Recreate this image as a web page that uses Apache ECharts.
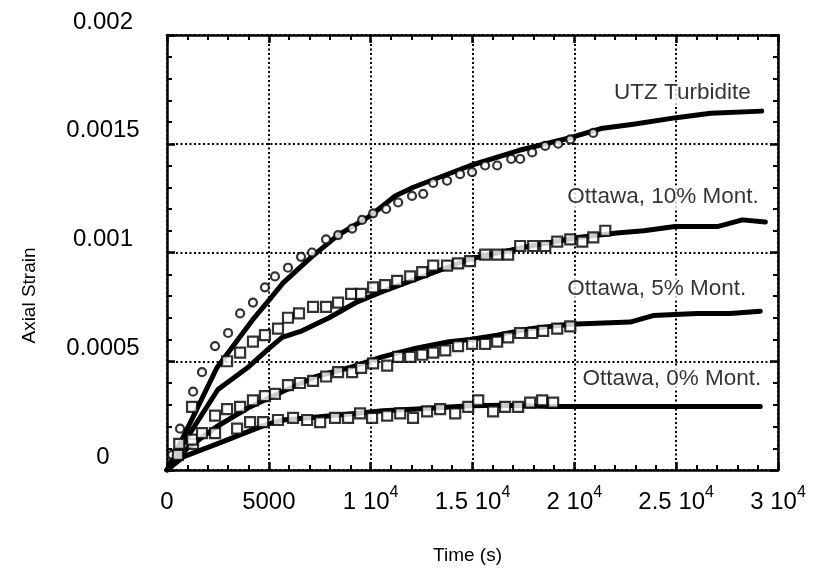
<!DOCTYPE html>
<html>
<head>
<meta charset="utf-8">
<script src="https://cdn.jsdelivr.net/npm/echarts@6.0.0/dist/echarts.min.js"></script>
<style>
  html, body { margin: 0; padding: 0; background: #ffffff; }
  #chart { width: 816px; height: 571px; }
</style>
</head>
<body>
<div id="chart"></div>
<script>
// Creep tests: axial strain against time, model curves (lines) and measurements (markers)

const xTickLabels = ['0', '5000', '1 10{sup|4}', '1.5 10{sup|4}', '2 10{sup|4}', '2.5 10{sup|4}', '3 10{sup|4}'];
const yTickLabels = ['0', '0.0005', '0.001', '0.0015', '0.002'];
const seriesNames = ['UTZ Turbidite', 'Ottawa, 10% Mont.', 'Ottawa, 5% Mont.', 'Ottawa, 0% Mont.'];

// [time (s), axial strain]
const utzLine = [
  [0, 0], [1000, 0.00019], [2450, 0.00047], [4200, 0.00069], [5000, 0.00078], [5700, 0.00086],
  [7100, 0.00098], [8400, 0.00108], [10000, 0.00117], [11200, 0.00126], [12100, 0.00130],
  [14900, 0.00140], [17300, 0.00147], [19900, 0.00153], [21300, 0.00157], [22900, 0.00159],
  [25000, 0.00162], [26700, 0.00164], [29200, 0.00165]
];
const utzPoints = [
  [250, 0.00007], [640, 0.00019], [1280, 0.00036], [1720, 0.00045], [2360, 0.00057], [3000, 0.00063],
  [3590, 0.00072], [4220, 0.00077], [4810, 0.00084], [5300, 0.00089], [5940, 0.00093], [6580, 0.00098],
  [7120, 0.00100], [7810, 0.00106], [8400, 0.00108], [9090, 0.00111], [9580, 0.00115], [10120, 0.00118],
  [10760, 0.00120], [11350, 0.00123], [12030, 0.00126], [12580, 0.00127], [13070, 0.00132], [13750, 0.00133],
  [14390, 0.00136], [14980, 0.00137], [15620, 0.00140], [16210, 0.00140], [16900, 0.00143], [17340, 0.00143],
  [17930, 0.00146], [18570, 0.00149], [19210, 0.00150], [19800, 0.00152], [20930, 0.00155]
];

const m10Line = [
  [0, 0], [1000, 0.00015], [2500, 0.00037], [3950, 0.00047], [4900, 0.00055], [5650, 0.00061],
  [6630, 0.00064], [7960, 0.00070], [9280, 0.00077], [10560, 0.00082], [12280, 0.00088],
  [14880, 0.00097], [17830, 0.00103], [20260, 0.00107], [22080, 0.00109], [23410, 0.00110],
  [24950, 0.00112], [27070, 0.00112], [28250, 0.00115], [29380, 0.00114]
];
const m10Points = [
  [600, 0.00012], [1230, 0.00029], [2950, 0.00050], [3590, 0.00054], [4220, 0.00059], [4810, 0.00062],
  [5450, 0.00065], [5940, 0.00070], [6480, 0.00072], [7170, 0.00075], [7810, 0.00075], [8400, 0.00077],
  [9040, 0.00081], [9530, 0.00081], [10120, 0.00084], [10710, 0.00085], [11300, 0.00087], [11940, 0.00089],
  [12530, 0.00091], [13070, 0.00094], [13750, 0.00094], [14290, 0.00095], [14880, 0.00096], [15620, 0.00099],
  [16210, 0.00099], [16750, 0.00099], [17340, 0.00103], [17980, 0.00103], [18570, 0.00103], [19160, 0.00105],
  [19800, 0.00106], [20390, 0.00105], [20930, 0.00107], [21520, 0.00110]
];

const m5Line = [
  [0, 0], [1000, 0.00010], [2450, 0.00020], [4070, 0.00029], [5650, 0.00036], [7320, 0.00043],
  [8940, 0.00047], [10560, 0.00052], [12230, 0.00056], [13850, 0.00059], [14880, 0.00060],
  [16210, 0.00062], [17830, 0.00065], [19800, 0.00067], [22740, 0.00068], [23870, 0.00071],
  [26030, 0.00072], [27650, 0.00072], [29130, 0.00073]
];
const m5Points = [
  [540, 0.00007], [1280, 0.00012], [2360, 0.00025], [2950, 0.00028], [3590, 0.00029], [4220, 0.00032],
  [4810, 0.00034], [5300, 0.00035], [5940, 0.00039], [6530, 0.00040], [7170, 0.00041], [7810, 0.00043],
  [8400, 0.00045], [9090, 0.00045], [9530, 0.00047], [10120, 0.00049], [10810, 0.00048], [11350, 0.00052],
  [11940, 0.00052], [12530, 0.00053], [13070, 0.00054], [13660, 0.00055], [14290, 0.00057], [14980, 0.00058],
  [15620, 0.00058], [16210, 0.00059], [16750, 0.00061], [17340, 0.00063], [17930, 0.00063], [18470, 0.00064],
  [19160, 0.00065], [19800, 0.00066]
];

const m0Line = [
  [0, 0], [790, 0.00006], [2460, 0.00012], [4080, 0.00018], [4910, 0.00021], [5700, 0.00023],
  [7370, 0.000244], [8990, 0.000257], [10610, 0.000272], [12280, 0.00028], [14880, 0.000295],
  [16500, 0.000298], [18900, 0.000292], [29130, 0.000292]
];
const m0Points = [
  [1230, 0.00014], [1720, 0.00017], [2360, 0.00017], [3440, 0.00019], [4080, 0.00022], [4720, 0.00022],
  [5450, 0.00023], [6190, 0.00024], [6880, 0.00023], [7520, 0.00022], [8250, 0.00024], [8890, 0.00024],
  [9480, 0.00026], [10070, 0.00024], [10810, 0.00025], [11450, 0.00026], [12080, 0.00024], [12770, 0.00027],
  [13410, 0.00028], [14150, 0.00026], [14790, 0.00029], [15280, 0.00032], [16010, 0.00027], [16600, 0.00029],
  [17240, 0.00029], [17830, 0.00031], [18420, 0.00032], [18960, 0.00031]
];

const FONT = '"Liberation Sans", Arial, Helvetica, sans-serif';
const INK = '#000000';

function lineSeries(name, data) {
  return {
    name: name, type: 'line', data: data, showSymbol: false, symbol: 'none',
    lineStyle: { color: INK, width: 5, cap: 'round', join: 'round' },
    z: 3, silent: true, animation: false
  };
}
function pointSeries(name, data, symbol) {
  return {
    name: name, type: 'scatter', data: data, symbol: symbol,
    symbolSize: symbol === 'circle' ? 8 : 10,
    itemStyle: { color: '#ffffff', borderColor: INK, borderWidth: 2.2 },
    z: 4, silent: true, animation: false
  };
}

const frameLine = { show: true, onZero: false, lineStyle: { color: INK, width: 2.5 } };
const majorTick = { show: true, inside: true, length: 8, lineStyle: { color: INK, width: 2.5 } };
const minorTick = { show: true, splitNumber: 5, length: 5, lineStyle: { color: INK, width: 2 } };
const dottedGrid = { show: true, lineStyle: { color: INK, width: 2, type: [2, 2.5] } };

const option = {
  backgroundColor: '#ffffff',
  animation: false,
  grid: { left: 167, right: 38, top: 35, bottom: 101, containLabel: false },
  xAxis: [
    {
      type: 'value', min: 0, max: 30000, interval: 5000, position: 'bottom',
      name: 'Time (s)', nameLocation: 'middle', nameGap: 76,
      nameTextStyle: { fontFamily: FONT, fontSize: 19, color: INK, padding: [0, 10, 0, 0] },
      axisLine: frameLine, axisTick: majorTick, minorTick: minorTick,
      splitLine: dottedGrid, minorSplitLine: { show: false },
      axisLabel: {
        margin: 15, fontFamily: FONT, fontSize: 24, color: INK, lineHeight: 34,
        formatter: v => xTickLabels[Math.round(v / 5000)],
        rich: { sup: { fontFamily: FONT, fontSize: 16, color: INK, verticalAlign: 'top', lineHeight: 34 } }
      }
    },
    {
      type: 'value', min: 0, max: 30000, interval: 5000, position: 'top',
      axisLine: frameLine, axisTick: majorTick, minorTick: minorTick,
      splitLine: { show: false }, axisLabel: { show: false }
    }
  ],
  yAxis: [
    {
      type: 'value', min: 0, max: 0.002, interval: 0.0005, position: 'left',
      name: 'Axial Strain', nameLocation: 'middle', nameGap: 128,
      nameTextStyle: { fontFamily: FONT, fontSize: 19, color: INK, padding: [0, 86, 0, 0] },
      axisLine: frameLine, axisTick: majorTick, minorTick: minorTick,
      splitLine: dottedGrid, minorSplitLine: { show: false },
      axisLabel: {
        margin: 64, align: 'center', verticalAlign: 'bottom', lineHeight: 26,
        fontFamily: FONT, fontSize: 24, color: INK,
        formatter: v => yTickLabels[Math.round(v / 0.0005)]
      }
    },
    {
      type: 'value', min: 0, max: 0.002, interval: 0.0005, position: 'right',
      axisLine: frameLine, axisTick: majorTick, minorTick: minorTick,
      splitLine: { show: false }, axisLabel: { show: false }
    }
  ],
  series: [
    lineSeries(seriesNames[0], utzLine),
    pointSeries(seriesNames[0], utzPoints, 'circle'),
    lineSeries(seriesNames[1], m10Line),
    pointSeries(seriesNames[1], m10Points, 'rect'),
    lineSeries(seriesNames[2], m5Line),
    pointSeries(seriesNames[2], m5Points, 'rect'),
    lineSeries(seriesNames[3], m0Line),
    pointSeries(seriesNames[3], m0Points, 'rect'),
    {
      // curve captions, anchored in data space at the left end of each caption
      type: 'scatter', symbolSize: 0, silent: true, z: 6,
      data: [
        { value: [21850, 0.001733], name: seriesNames[0] },
        { value: [19560, 0.001255], name: seriesNames[1] },
        { value: [19560, 0.000832], name: seriesNames[2] },
        { value: [20300, 0.000418], name: seriesNames[3] }
      ],
      label: {
        show: true, position: 'right', distance: 0, formatter: p => p.name,
        fontFamily: FONT, fontSize: 22.5, color: INK,
        backgroundColor: '#ffffff', padding: [0, 2, 0, 2]
      }
    }
  ]
};

const chart = echarts.init(document.getElementById('chart'), null, { renderer: 'canvas' });
chart.setOption(option);
</script>
</body>
</html>
